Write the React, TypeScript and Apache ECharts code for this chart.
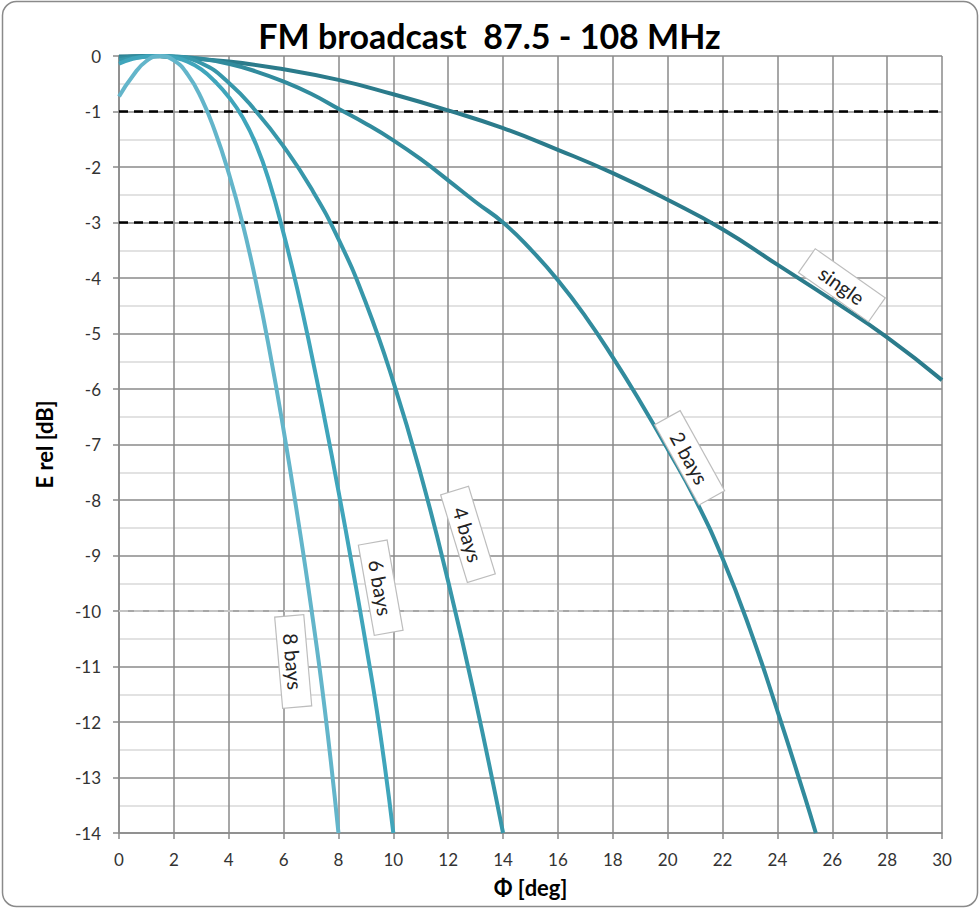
import React, { useEffect, useRef } from 'react';
import * as echarts from 'echarts';

const TITLE = 'FM broadcast  87.5 - 108 MHz';
const X_NAME = 'Φ [deg]';
const Y_NAME = 'E rel [dB]';

const seriesNames = ['single', '2 bays', '4 bays', '6 bays', '8 bays'];
const seriesColors = ['#2b7b8b', '#318b9d', '#3797aa', '#3fa5bb', '#63b5ca'];

const singleX = [0, 1, 2, 4, 6, 8, 10, 12, 14, 16, 18, 20, 22, 24, 26, 28, 30];
const singleY = [-0.01, 0, -0.02, -0.1, -0.24, -0.43, -0.69, -0.98, -1.3, -1.69, -2.11, -2.59, -3.12, -3.76, -4.4, -5.07, -5.84];

const bays2X = [0, 1, 1.5, 2, 3, 4, 5, 6, 7, 8, 9, 10, 11, 12, 13, 14, 15, 16, 17, 18, 19, 20, 21, 22, 23, 24, 25, 25.4];
const bays2Y = [-0.03, 0, 0, -0.01, -0.05, -0.14, -0.28, -0.46, -0.68, -0.95, -1.22, -1.52, -1.86, -2.24, -2.63, -3.0, -3.48, -4.04, -4.69, -5.43, -6.23, -7.08, -7.98, -9.05, -10.33, -11.8, -13.35, -14];

const bays4X = [0, 1, 1.5, 2, 3, 4, 5, 6, 7, 8, 9, 10, 11, 12, 13, 14];
const bays4Y = [-0.07, -0.01, 0, -0.01, -0.13, -0.48, -1.0, -1.63, -2.38, -3.3, -4.45, -5.87, -7.54, -9.47, -11.62, -14];

const bays6X = [0, 0.5, 1, 1.5, 2, 2.5, 3, 3.5, 4, 4.5, 5, 5.5, 6, 6.5, 7, 7.5, 8, 8.5, 9, 9.5, 10];
const bays6Y = [-0.14, -0.05, -0.01, 0, -0.03, -0.1, -0.24, -0.46, -0.74, -1.1, -1.6, -2.3, -3.2, -4.2, -5.33, -6.55, -7.84, -9.19, -10.6, -12.13, -14];

const bays8X = [0, 0.5, 1, 1.5, 2, 2.5, 3, 3.5, 4, 4.5, 5, 5.5, 6, 6.5, 7, 7.5, 8];
const bays8Y = [-0.73, -0.36, -0.09, 0, -0.08, -0.33, -0.76, -1.36, -2.11, -3.01, -4.09, -5.34, -6.74, -8.27, -9.92, -11.77, -14];

const seriesX = [singleX, bays2X, bays4X, bays6X, bays8X];
const seriesY = [singleY, bays2Y, bays4Y, bays6Y, bays8Y];

// curve label anchors (data coordinates) and angles
const labelX = [26.35, 20.8, 12.72, 9.54, 6.35];
const labelY = [-4.13, -7.24, -8.62, -9.58, -10.91];
const labelAngle = [-35, -61, -73, -80, -85];

const refBlack = [-1, -3];
const refGrey = [-10];

const X_MIN = 0;
const X_MAX = 30;
const X_STEP = 2;
const Y_MIN = -14;
const Y_MAX = 0;
const Y_STEP = 1;

const FONT = 'Lato, "Open Sans", sans-serif';

export default function App() {
  const ref = useRef<HTMLDivElement>(null);

  useEffect(() => {
    if (!ref.current) return;
    const chart = echarts.init(ref.current, undefined, { renderer: 'svg' });

    const refSeries: any[] = [];
    refBlack.forEach((v) => {
      refSeries.push({
        type: 'line',
        data: [[X_MIN, v], [X_MAX, v]],
        showSymbol: false,
        silent: true,
        z: 1,
        lineStyle: { color: '#000', width: 2.5, type: [9, 6] },
      });
    });
    refGrey.forEach((v) => {
      refSeries.push({
        type: 'line',
        data: [[X_MIN, v], [X_MAX, v]],
        showSymbol: false,
        silent: true,
        z: 1,
        lineStyle: { color: '#c4c4c4', width: 2, type: [9, 6] },
      });
    });

    const curveSeries = seriesNames.map((name, i) => ({
      name,
      type: 'line',
      data: seriesX[i].map((x, j) => [x, seriesY[i][j]]),
      showSymbol: false,
      smooth: 0.5,
      z: 2 + i,
      lineStyle: { color: seriesColors[i], width: 4 },
      itemStyle: { color: seriesColors[i] },
      markPoint: {
        silent: true,
        symbol: 'circle',
        symbolSize: 1,
        itemStyle: { color: 'rgba(0,0,0,0)' },
        data: [{ coord: [labelX[i], labelY[i]], name }],
        label: {
          show: true,
          position: 'inside',
          formatter: name,
          rotate: labelAngle[i],
          fontFamily: FONT,
          fontSize: 20,
          color: '#222',
          backgroundColor: '#ffffff',
          borderColor: '#bdbdbd',
          borderWidth: 1.2,
          padding: [4, 17, 4, 17],
        },
      },
    }));

    chart.setOption({
      animation: false,
      backgroundColor: '#ffffff',
      title: {
        text: TITLE,
        left: 'center',
        top: 13,
        textStyle: { fontFamily: FONT, fontSize: 34, fontWeight: 'bold', color: '#000' },
      },
      graphic: [
        {
          type: 'rect',
          shape: { x: 2.5, y: 1.5, width: 975, height: 905, r: 14 },
          style: { fill: 'none', stroke: '#8a8a8a', lineWidth: 1.5 },
          silent: true,
          z: 100,
        },
      ],
      grid: { left: 119, right: 37, top: 56, bottom: 76, containLabel: false },
      xAxis: {
        type: 'value',
        min: X_MIN,
        max: X_MAX,
        interval: X_STEP,
        name: X_NAME,
        nameLocation: 'middle',
        nameGap: 43,
        nameTextStyle: { fontFamily: FONT, fontSize: 22, fontWeight: 'bold', color: '#000' },
        axisLine: { onZero: false, lineStyle: { color: '#8a8a8a', width: 1.5 } },
        axisTick: { show: true, length: 6, lineStyle: { color: '#8a8a8a', width: 1.5 } },
        axisLabel: { fontFamily: FONT, fontSize: 17, color: '#333', margin: 18 },
        splitLine: { show: true, lineStyle: { color: '#8a8a8a', width: 1.5 } },
      },
      yAxis: {
        type: 'value',
        min: Y_MIN,
        max: Y_MAX,
        interval: Y_STEP,
        name: Y_NAME,
        nameLocation: 'middle',
        nameGap: 64,
        nameRotate: 90,
        nameTextStyle: { fontFamily: FONT, fontSize: 22, fontWeight: 'bold', color: '#000' },
        axisLine: { show: true, onZero: false, lineStyle: { color: '#8a8a8a', width: 1.5 } },
        axisTick: { show: true, length: 6, lineStyle: { color: '#8a8a8a', width: 1.5 } },
        axisLabel: { fontFamily: FONT, fontSize: 17, color: '#333', margin: 18 },
        splitLine: { show: true, lineStyle: { color: '#8a8a8a', width: 1.5 } },
        minorTick: { show: false, splitNumber: 2 },
        minorSplitLine: { show: true, lineStyle: { color: '#d9d9d9', width: 1.5 } },
      },
      series: [...refSeries, ...curveSeries],
    });

    return () => chart.dispose();
  }, []);

  return (
    <div
      ref={ref}
      style={{ position: 'absolute', left: 0, top: 0, width: 979, height: 909, background: '#fff' }}
    />
  );
}
